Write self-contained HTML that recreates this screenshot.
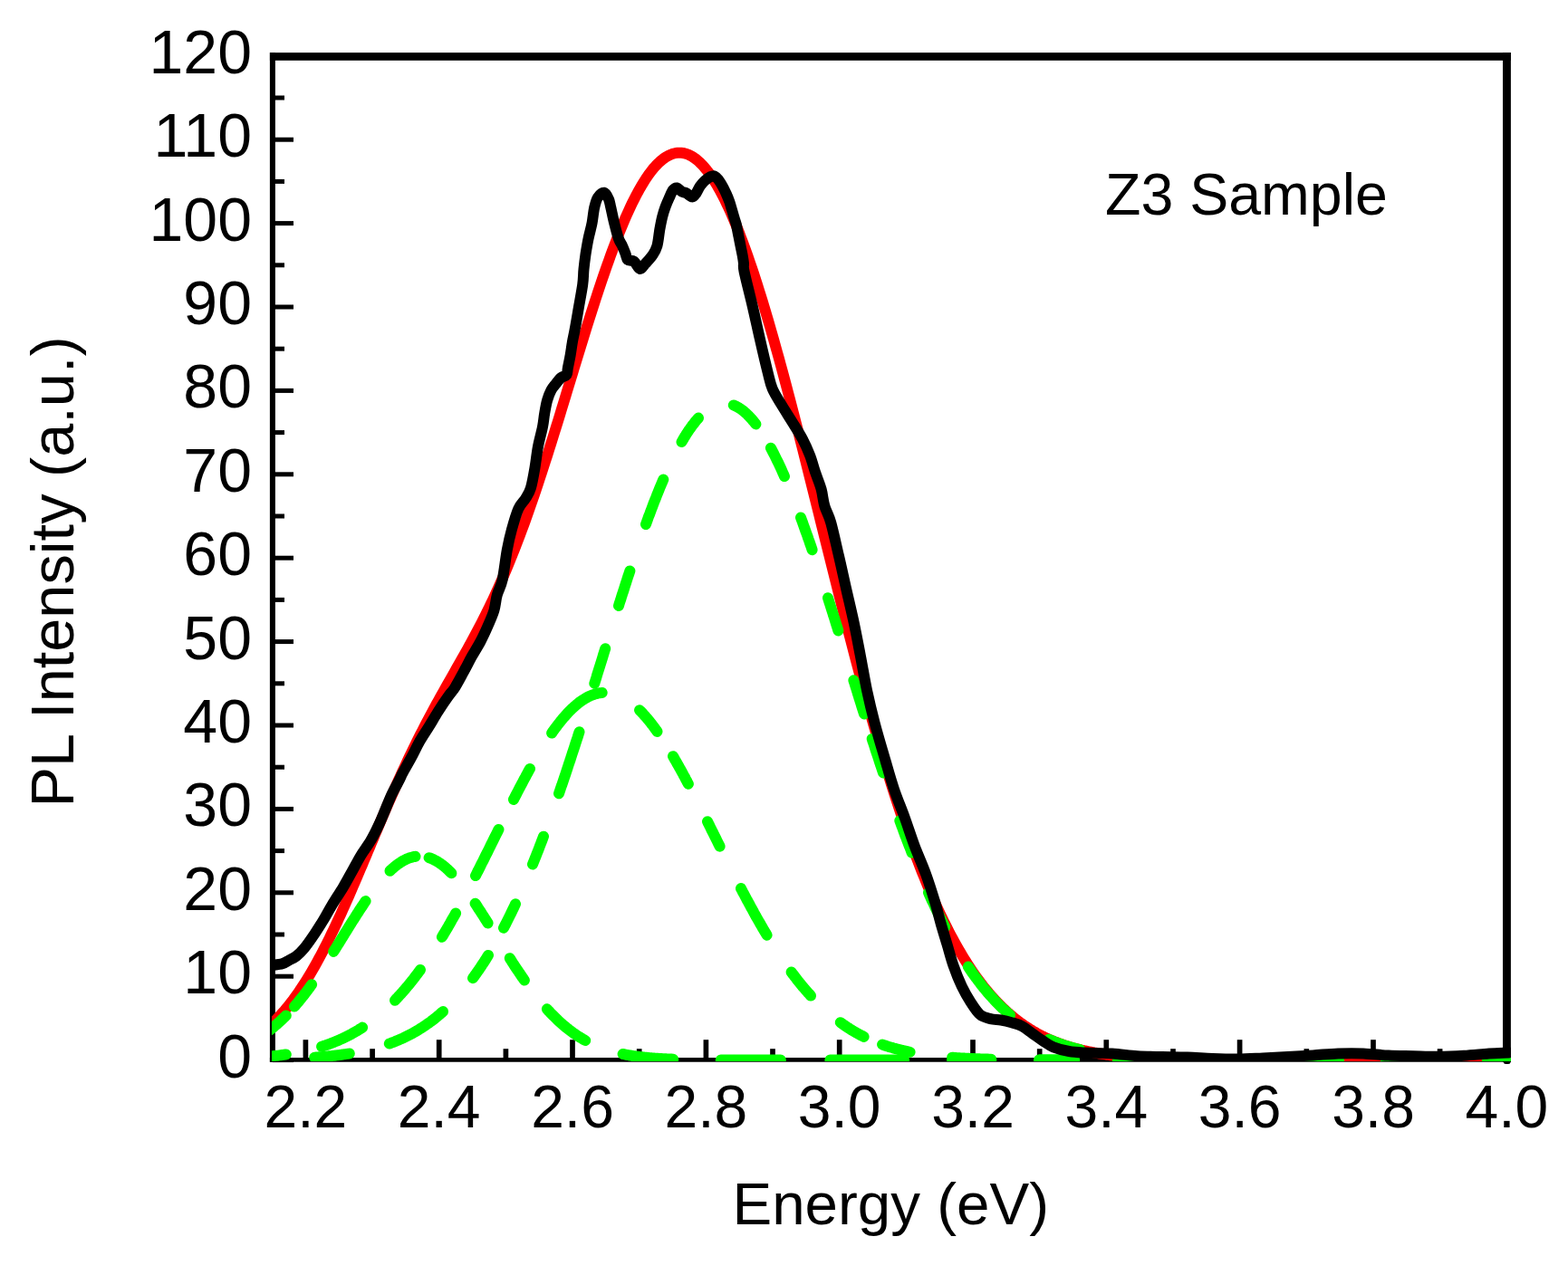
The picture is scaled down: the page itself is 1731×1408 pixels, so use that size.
<!DOCTYPE html>
<html><head><meta charset="utf-8"><style>
html,body{margin:0;padding:0;background:#fff;}
svg{display:block;}
text{font-family:"Liberation Sans",Arial,sans-serif;fill:#000;}
</style></head><body>
<svg width="1731" height="1408" viewBox="0 0 1731 1408">
<defs><clipPath id="pc"><rect x="300" y="58" width="1368" height="1114"/></clipPath></defs>
<rect width="1731" height="1408" fill="#fff"/>
<g stroke="#000" stroke-width="5"><line x1="301" y1="1170.6" x2="324" y2="1170.6"/>
<line x1="301" y1="1078.2" x2="324" y2="1078.2"/>
<line x1="301" y1="985.8" x2="324" y2="985.8"/>
<line x1="301" y1="893.4" x2="324" y2="893.4"/>
<line x1="301" y1="801.0" x2="324" y2="801.0"/>
<line x1="301" y1="708.6" x2="324" y2="708.6"/>
<line x1="301" y1="616.2" x2="324" y2="616.2"/>
<line x1="301" y1="523.8" x2="324" y2="523.8"/>
<line x1="301" y1="431.4" x2="324" y2="431.4"/>
<line x1="301" y1="339.0" x2="324" y2="339.0"/>
<line x1="301" y1="246.6" x2="324" y2="246.6"/>
<line x1="301" y1="154.2" x2="324" y2="154.2"/>
<line x1="301" y1="61.8" x2="324" y2="61.8"/>
<line x1="301" y1="1124.4" x2="314" y2="1124.4"/>
<line x1="301" y1="1032.0" x2="314" y2="1032.0"/>
<line x1="301" y1="939.6" x2="314" y2="939.6"/>
<line x1="301" y1="847.2" x2="314" y2="847.2"/>
<line x1="301" y1="754.8" x2="314" y2="754.8"/>
<line x1="301" y1="662.4" x2="314" y2="662.4"/>
<line x1="301" y1="570.0" x2="314" y2="570.0"/>
<line x1="301" y1="477.6" x2="314" y2="477.6"/>
<line x1="301" y1="385.2" x2="314" y2="385.2"/>
<line x1="301" y1="292.8" x2="314" y2="292.8"/>
<line x1="301" y1="200.4" x2="314" y2="200.4"/>
<line x1="301" y1="108.0" x2="314" y2="108.0"/>
<line x1="337.4" y1="1170.5" x2="337.4" y2="1148.2" stroke-width="5.7"/>
<line x1="484.7" y1="1170.5" x2="484.7" y2="1148.2" stroke-width="5.7"/>
<line x1="632.0" y1="1170.5" x2="632.0" y2="1148.2" stroke-width="5.7"/>
<line x1="779.4" y1="1170.5" x2="779.4" y2="1148.2" stroke-width="5.7"/>
<line x1="926.7" y1="1170.5" x2="926.7" y2="1148.2" stroke-width="5.7"/>
<line x1="1074.0" y1="1170.5" x2="1074.0" y2="1148.2" stroke-width="5.7"/>
<line x1="1221.3" y1="1170.5" x2="1221.3" y2="1148.2" stroke-width="5.7"/>
<line x1="1368.6" y1="1170.5" x2="1368.6" y2="1148.2" stroke-width="5.7"/>
<line x1="1516.0" y1="1170.5" x2="1516.0" y2="1148.2" stroke-width="5.7"/>
<line x1="1663.3" y1="1170.5" x2="1663.3" y2="1148.2" stroke-width="5.7"/>
<line x1="411.1" y1="1170.5" x2="411.1" y2="1158.2" stroke-width="5.7"/>
<line x1="558.4" y1="1170.5" x2="558.4" y2="1158.2" stroke-width="5.7"/>
<line x1="705.7" y1="1170.5" x2="705.7" y2="1158.2" stroke-width="5.7"/>
<line x1="853.0" y1="1170.5" x2="853.0" y2="1158.2" stroke-width="5.7"/>
<line x1="1000.3" y1="1170.5" x2="1000.3" y2="1158.2" stroke-width="5.7"/>
<line x1="1147.7" y1="1170.5" x2="1147.7" y2="1158.2" stroke-width="5.7"/>
<line x1="1295.0" y1="1170.5" x2="1295.0" y2="1158.2" stroke-width="5.7"/>
<line x1="1442.3" y1="1170.5" x2="1442.3" y2="1158.2" stroke-width="5.7"/>
<line x1="1589.6" y1="1170.5" x2="1589.6" y2="1158.2" stroke-width="5.7"/></g>
<g fill="#000"><rect x="297.9" y="58.1" width="6" height="1114.7"/><rect x="297.9" y="58.1" width="1370" height="8.7"/><rect x="1659" y="58.1" width="8.9" height="1114.7"/><rect x="1659.8" y="1170" width="7.7" height="5" rx="2.5"/><rect x="297.9" y="1168" width="1370" height="4.75"/></g>
<g clip-path="url(#pc)" fill="none" stroke-linejoin="round" stroke-linecap="round">
<path d="M298.0,1132.5 L300.0,1130.7 L302.0,1128.8 L304.0,1126.9 L306.0,1124.8 L308.0,1122.8 L310.0,1120.6 L312.0,1118.4 L314.0,1116.1 L316.0,1113.7 L318.0,1111.3 L320.0,1108.8 L322.0,1106.2 L324.0,1103.6 L326.0,1100.8 L328.0,1098.0 L330.0,1095.2 L332.0,1092.2 L334.0,1089.2 L336.0,1086.1 L338.0,1082.9 L340.0,1079.7 L342.0,1076.4 L344.0,1073.0 L346.0,1069.5 L348.0,1066.0 L350.0,1062.4 L352.0,1058.7 L354.0,1055.0 L356.0,1051.2 L358.0,1047.3 L360.0,1043.4 L362.0,1039.4 L364.0,1035.4 L366.0,1031.2 L368.0,1027.1 L370.0,1022.9 L372.0,1018.6 L374.0,1014.3 L376.0,1009.9 L378.0,1005.5 L380.0,1001.0 L382.0,996.6 L384.0,992.0 L386.0,987.5 L388.0,982.9 L390.0,978.2 L392.0,973.6 L394.0,968.9 L396.0,964.2 L398.0,959.5 L400.0,954.8 L402.0,950.0 L404.0,945.3 L406.0,940.5 L408.0,935.8 L410.0,931.0 L412.0,926.3 L414.0,921.5 L416.0,916.8 L418.0,912.1 L420.0,907.4 L422.0,902.7 L424.0,898.0 L426.0,893.4 L428.0,888.7 L430.0,884.1 L432.0,879.5 L434.0,875.0 L436.0,870.5 L438.0,866.0 L440.0,861.6 L442.0,857.2 L444.0,852.8 L446.0,848.5 L448.0,844.2 L450.0,839.9 L452.0,835.7 L454.0,831.5 L456.0,827.4 L458.0,823.3 L460.0,819.3 L462.0,815.3 L464.0,811.3 L466.0,807.4 L468.0,803.5 L470.0,799.6 L472.0,795.8 L474.0,792.0 L476.0,788.3 L478.0,784.6 L480.0,780.9 L482.0,777.2 L484.0,773.6 L486.0,770.0 L488.0,766.4 L490.0,762.8 L492.0,759.3 L494.0,755.7 L496.0,752.2 L498.0,748.7 L500.0,745.2 L502.0,741.6 L504.0,738.1 L506.0,734.6 L508.0,731.1 L510.0,727.5 L512.0,724.0 L514.0,720.4 L516.0,716.8 L518.0,713.2 L520.0,709.5 L522.0,705.8 L524.0,702.1 L526.0,698.4 L528.0,694.6 L530.0,690.8 L532.0,686.9 L534.0,682.9 L536.0,679.0 L538.0,674.9 L540.0,670.8 L542.0,666.7 L544.0,662.5 L546.0,658.2 L548.0,653.9 L550.0,649.5 L552.0,645.0 L554.0,640.4 L556.0,635.8 L558.0,631.1 L560.0,626.4 L562.0,621.5 L564.0,616.6 L566.0,611.6 L568.0,606.5 L570.0,601.4 L572.0,596.2 L574.0,590.9 L576.0,585.5 L578.0,580.1 L580.0,574.6 L582.0,569.0 L584.0,563.3 L586.0,557.6 L588.0,551.8 L590.0,546.0 L592.0,540.0 L594.0,534.1 L596.0,528.0 L598.0,521.9 L600.0,515.7 L602.0,509.5 L604.0,503.3 L606.0,497.0 L608.0,490.6 L610.0,484.2 L612.0,477.8 L614.0,471.4 L616.0,464.9 L618.0,458.4 L620.0,451.8 L622.0,445.3 L624.0,438.7 L626.0,432.1 L628.0,425.5 L630.0,419.0 L632.0,412.4 L634.0,405.8 L636.0,399.2 L638.0,392.7 L640.0,386.2 L642.0,379.7 L644.0,373.2 L646.0,366.7 L648.0,360.3 L650.0,354.0 L652.0,347.6 L654.0,341.4 L656.0,335.1 L658.0,329.0 L660.0,322.9 L662.0,316.9 L664.0,310.9 L666.0,305.0 L668.0,299.2 L670.0,293.5 L672.0,287.9 L674.0,282.3 L676.0,276.9 L678.0,271.5 L680.0,266.3 L682.0,261.1 L684.0,256.1 L686.0,251.2 L688.0,246.4 L690.0,241.7 L692.0,237.1 L694.0,232.7 L696.0,228.4 L698.0,224.2 L700.0,220.2 L702.0,216.3 L704.0,212.5 L706.0,208.9 L708.0,205.4 L710.0,202.1 L712.0,198.9 L714.0,195.8 L716.0,192.9 L718.0,190.2 L720.0,187.6 L722.0,185.2 L724.0,183.0 L726.0,180.9 L728.0,179.0 L730.0,177.2 L732.0,175.6 L734.0,174.1 L736.0,172.9 L738.0,171.8 L740.0,170.8 L742.0,170.1 L744.0,169.5 L746.0,169.0 L748.0,168.8 L750.0,168.7 L752.0,168.8 L754.0,169.0 L756.0,169.4 L758.0,170.0 L760.0,170.8 L762.0,171.7 L764.0,172.8 L766.0,174.1 L768.0,175.5 L770.0,177.1 L772.0,178.9 L774.0,180.8 L776.0,182.9 L778.0,185.2 L780.0,187.6 L782.0,190.2 L784.0,192.9 L786.0,195.8 L788.0,198.9 L790.0,202.1 L792.0,205.4 L794.0,208.9 L796.0,212.6 L798.0,216.4 L800.0,220.4 L802.0,224.5 L804.0,228.7 L806.0,233.1 L808.0,237.7 L810.0,242.3 L812.0,247.1 L814.0,252.1 L816.0,257.1 L818.0,262.3 L820.0,267.6 L822.0,273.1 L824.0,278.6 L826.0,284.3 L828.0,290.1 L830.0,296.0 L832.0,302.0 L834.0,308.1 L836.0,314.4 L838.0,320.7 L840.0,327.1 L842.0,333.6 L844.0,340.3 L846.0,347.0 L848.0,353.8 L850.0,360.6 L852.0,367.6 L854.0,374.7 L856.0,381.8 L858.0,389.0 L860.0,396.2 L862.0,403.5 L864.0,410.9 L866.0,418.4 L868.0,425.9 L870.0,433.5 L872.0,441.1 L874.0,448.8 L876.0,456.5 L878.0,464.2 L880.0,472.0 L882.0,479.8 L884.0,487.7 L886.0,495.6 L888.0,503.5 L890.0,511.5 L892.0,519.5 L894.0,527.5 L896.0,535.5 L898.0,543.5 L900.0,551.5 L902.0,559.6 L904.0,567.6 L906.0,575.7 L908.0,583.7 L910.0,591.8 L912.0,599.8 L914.0,607.8 L916.0,615.8 L918.0,623.9 L920.0,631.8 L922.0,639.8 L924.0,647.8 L926.0,655.7 L928.0,663.6 L930.0,671.5 L932.0,679.3 L934.0,687.1 L936.0,694.9 L938.0,702.6 L940.0,710.3 L942.0,718.0 L944.0,725.6 L946.0,733.2 L948.0,740.7 L950.0,748.2 L952.0,755.6 L954.0,762.9 L956.0,770.3 L958.0,777.5 L960.0,784.7 L962.0,791.8 L964.0,798.9 L966.0,805.9 L968.0,812.9 L970.0,819.8 L972.0,826.6 L974.0,833.4 L976.0,840.0 L978.0,846.7 L980.0,853.2 L982.0,859.7 L984.0,866.1 L986.0,872.4 L988.0,878.7 L990.0,884.8 L992.0,890.9 L994.0,897.0 L996.0,902.9 L998.0,908.8 L1000.0,914.6 L1002.0,920.3 L1004.0,925.9 L1006.0,931.5 L1008.0,937.0 L1010.0,942.4 L1012.0,947.7 L1014.0,952.9 L1016.0,958.1 L1018.0,963.2 L1020.0,968.1 L1022.0,973.1 L1024.0,977.9 L1026.0,982.6 L1028.0,987.3 L1030.0,991.9 L1032.0,996.4 L1034.0,1000.9 L1036.0,1005.2 L1038.0,1009.5 L1040.0,1013.7 L1042.0,1017.8 L1044.0,1021.8 L1046.0,1025.8 L1048.0,1029.7 L1050.0,1033.5 L1052.0,1037.2 L1054.0,1040.9 L1056.0,1044.5 L1058.0,1048.0 L1060.0,1051.4 L1062.0,1054.8 L1064.0,1058.1 L1066.0,1061.3 L1068.0,1064.4 L1070.0,1067.5 L1072.0,1070.5 L1074.0,1073.5 L1076.0,1076.4 L1078.0,1079.2 L1080.0,1081.9 L1082.0,1084.6 L1084.0,1087.2 L1086.0,1089.8 L1088.0,1092.3 L1090.0,1094.7 L1092.0,1097.1 L1094.0,1099.4 L1096.0,1101.6 L1098.0,1103.8 L1100.0,1106.0 L1102.0,1108.0 L1104.0,1110.1 L1106.0,1112.1 L1108.0,1114.0 L1110.0,1115.8 L1112.0,1117.7 L1114.0,1119.4 L1116.0,1121.2 L1118.0,1122.8 L1120.0,1124.5 L1122.0,1126.0 L1124.0,1127.6 L1126.0,1129.1 L1128.0,1130.5 L1130.0,1131.9 L1132.0,1133.3 L1134.0,1134.6 L1136.0,1135.9 L1138.0,1137.1 L1140.0,1138.4 L1142.0,1139.5 L1144.0,1140.7 L1146.0,1141.8 L1148.0,1142.8 L1150.0,1143.9 L1152.0,1144.8 L1154.0,1145.8 L1156.0,1146.8 L1158.0,1147.7 L1160.0,1148.5 L1162.0,1149.4 L1164.0,1150.2 L1166.0,1151.0 L1168.0,1151.7 L1170.0,1152.5 L1172.0,1153.2 L1174.0,1153.9 L1176.0,1154.6 L1178.0,1155.2 L1180.0,1155.8 L1182.0,1156.4 L1184.0,1157.0 L1186.0,1157.5 L1188.0,1158.1 L1190.0,1158.6 L1192.0,1159.1 L1194.0,1159.6 L1196.0,1160.0 L1198.0,1160.5 L1200.0,1160.9 L1202.0,1161.3 L1204.0,1161.7 L1206.0,1162.1 L1208.0,1162.5 L1210.0,1162.8 L1212.0,1163.1 L1214.0,1163.5 L1216.0,1163.8 L1218.0,1164.1 L1220.0,1164.4 L1222.0,1164.7 L1224.0,1164.9 L1226.0,1165.2 L1228.0,1165.4 L1230.0,1165.7 L1232.0,1165.9 L1234.0,1166.1 L1236.0,1166.3 L1238.0,1166.5 L1240.0,1166.7 L1242.0,1166.9 L1244.0,1167.0 L1246.0,1167.2 L1248.0,1167.4 L1250.0,1167.5 L1252.0,1167.7 L1254.0,1167.8 L1256.0,1167.9 L1258.0,1168.1 L1260.0,1168.2 L1262.0,1168.3 L1264.0,1168.4 L1266.0,1168.5 L1268.0,1168.6 L1270.0,1168.7 L1272.0,1168.8 L1274.0,1168.9 L1276.0,1169.0 L1278.0,1169.1 L1280.0,1169.2 L1282.0,1169.2 L1284.0,1169.3 L1286.0,1169.4 L1288.0,1169.4 L1290.0,1169.5 L1292.0,1169.5 L1294.0,1169.6 L1296.0,1169.6 L1298.0,1169.7 L1300.0,1169.7 L1302.0,1169.8 L1304.0,1169.8 L1306.0,1169.9 L1308.0,1169.9 L1310.0,1169.9 L1312.0,1170.0 L1314.0,1170.0 L1316.0,1170.0 L1318.0,1170.1 L1320.0,1170.1 L1322.0,1170.1 L1324.0,1170.2 L1326.0,1170.2 L1328.0,1170.2 L1330.0,1170.2 L1332.0,1170.2 L1334.0,1170.3 L1336.0,1170.3 L1338.0,1170.3 L1340.0,1170.3 L1342.0,1170.3 L1344.0,1170.4 L1346.0,1170.4 L1348.0,1170.4 L1350.0,1170.4 L1352.0,1170.4 L1354.0,1170.4 L1356.0,1170.4 L1358.0,1170.4 L1360.0,1170.4 L1362.0,1170.5 L1364.0,1170.5 L1366.0,1170.5 L1368.0,1170.5 L1370.0,1170.5 L1372.0,1170.5 L1374.0,1170.5 L1376.0,1170.5 L1378.0,1170.5 L1380.0,1170.5 L1382.0,1170.5 L1384.0,1170.5 L1386.0,1170.5 L1388.0,1170.5 L1390.0,1170.5 L1392.0,1170.5 L1394.0,1170.5 L1396.0,1170.6 L1398.0,1170.6 L1400.0,1170.6 L1402.0,1170.6 L1404.0,1170.6 L1406.0,1170.6 L1408.0,1170.6 L1410.0,1170.6 L1412.0,1170.6 L1414.0,1170.6 L1416.0,1170.6 L1418.0,1170.6 L1420.0,1170.6 L1422.0,1170.6 L1424.0,1170.6 L1426.0,1170.6 L1428.0,1170.6 L1430.0,1170.6 L1432.0,1170.6 L1434.0,1170.6 L1436.0,1170.6 L1438.0,1170.6 L1440.0,1170.6 L1442.0,1170.6 L1444.0,1170.6 L1446.0,1170.6 L1448.0,1170.6 L1450.0,1170.6 L1452.0,1170.6 L1454.0,1170.6 L1456.0,1170.6 L1458.0,1170.6 L1460.0,1170.6 L1462.0,1170.6 L1464.0,1170.6 L1466.0,1170.6 L1468.0,1170.6 L1470.0,1170.6 L1472.0,1170.6 L1474.0,1170.6 L1476.0,1170.6 L1478.0,1170.6 L1480.0,1170.6 L1482.0,1170.6 L1484.0,1170.6 L1486.0,1170.6 L1488.0,1170.6 L1490.0,1170.6 L1492.0,1170.6 L1494.0,1170.6 L1496.0,1170.6 L1498.0,1170.6 L1500.0,1170.6 L1502.0,1170.6 L1504.0,1170.6 L1506.0,1170.6 L1508.0,1170.6 L1510.0,1170.6 L1512.0,1170.6 L1514.0,1170.6 L1516.0,1170.6 L1518.0,1170.6 L1520.0,1170.6 L1522.0,1170.6 L1524.0,1170.6 L1526.0,1170.6 L1528.0,1170.6 L1530.0,1170.6 L1532.0,1170.6 L1534.0,1170.6 L1536.0,1170.6 L1538.0,1170.6 L1540.0,1170.6 L1542.0,1170.6 L1544.0,1170.6 L1546.0,1170.6 L1548.0,1170.6 L1550.0,1170.6 L1552.0,1170.6 L1554.0,1170.6 L1556.0,1170.6 L1558.0,1170.6 L1560.0,1170.6 L1562.0,1170.6 L1564.0,1170.6 L1566.0,1170.6 L1568.0,1170.6 L1570.0,1170.6 L1572.0,1170.6 L1574.0,1170.6 L1576.0,1170.6 L1578.0,1170.6 L1580.0,1170.6 L1582.0,1170.6 L1584.0,1170.6 L1586.0,1170.6 L1588.0,1170.6 L1590.0,1170.6 L1592.0,1170.6 L1594.0,1170.6 L1596.0,1170.6 L1598.0,1170.6 L1600.0,1170.6 L1602.0,1170.6 L1604.0,1170.6 L1606.0,1170.6 L1608.0,1170.6 L1610.0,1170.6 L1612.0,1170.6 L1614.0,1170.6 L1616.0,1170.6 L1618.0,1170.6 L1620.0,1170.6 L1622.0,1170.6 L1624.0,1170.6 L1626.0,1170.6 L1628.0,1170.6 L1630.0,1170.6 L1632.0,1170.6 L1634.0,1170.6 L1636.0,1170.6 L1638.0,1170.6 L1640.0,1170.6 L1642.0,1170.6 L1644.0,1170.6 L1646.0,1170.6 L1648.0,1170.6 L1650.0,1170.6 L1652.0,1170.6 L1654.0,1170.6 L1656.0,1170.6 L1658.0,1170.6 L1660.0,1170.6 L1662.0,1170.6 L1664.0,1170.6 L1666.0,1170.6 L1668.0,1170.6 L1670.0,1170.6" stroke="#ff0000" stroke-width="12"/>
<path d="M290.0,1143.1 L291.0,1142.4 L292.1,1141.7 L293.1,1140.9 L294.1,1140.2 L295.2,1139.4 L296.2,1138.7 L297.2,1137.9 L298.3,1137.1 L299.3,1136.3 L300.3,1135.5 L301.4,1134.7 L302.4,1133.8 L303.4,1132.9 L304.4,1132.1 L305.5,1131.2 L306.5,1130.3 L307.5,1129.3 L308.6,1128.4 L309.6,1127.5 L310.6,1126.5 L311.7,1125.5 L312.7,1124.5 L313.7,1123.5 L314.8,1122.5 L315.8,1121.4 M325.0,1111.5 L326.0,1110.4 L327.0,1109.2 L328.0,1108.0 L329.0,1106.8 L330.0,1105.6 L331.0,1104.4 L332.0,1103.1 L333.0,1101.9 L334.0,1100.6 L335.1,1099.3 L336.1,1098.0 L337.1,1096.7 L338.1,1095.4 L339.1,1094.1 L340.1,1092.7 L341.1,1091.4 L342.1,1090.0 L343.1,1088.6 L344.1,1087.2 M368.2,1050.9 L369.2,1049.3 L370.2,1047.7 L371.2,1046.1 L372.2,1044.5 L373.3,1042.8 L374.3,1041.2 L375.3,1039.6 L376.3,1038.0 L377.3,1036.3 L378.3,1034.7 L379.3,1033.1 L380.3,1031.4 L381.3,1029.8 L382.4,1028.2 L383.4,1026.5 L384.4,1024.9 L385.4,1023.3 L386.4,1021.6 L387.4,1020.0 L388.4,1018.4 L389.4,1016.8 L390.5,1015.2 L391.5,1013.6 L392.5,1012.0 L393.5,1010.4 L394.5,1008.8 L395.5,1007.3 L396.5,1005.7 L397.5,1004.2 L398.5,1002.6 L399.6,1001.1 L400.6,999.6 L401.6,998.0 L402.6,996.5 L403.6,995.1 M430.5,961.7 L431.5,960.8 L432.5,959.9 L433.5,959.0 L434.5,958.1 L435.5,957.3 L436.5,956.4 L437.5,955.7 L438.5,954.9 L439.5,954.2 L440.5,953.5 L441.5,952.8 L442.5,952.1 L443.5,951.5 L444.5,950.9 L445.5,950.4 L446.5,949.8 L447.5,949.3 L448.5,948.9 L449.5,948.4 L450.5,948.0 L451.5,947.6 L452.5,947.3 L453.5,947.0 L454.5,946.7 L455.5,946.4 L456.5,946.2 L457.5,946.0 L458.5,945.8 M473.6,947.2 L474.6,947.5 L475.7,947.9 L476.7,948.3 L477.7,948.8 L478.8,949.3 L479.8,949.8 L480.8,950.3 L481.9,950.9 L482.9,951.5 L483.9,952.2 L485.0,952.8 L486.0,953.5 L487.0,954.3 L488.1,955.0 L489.1,955.8 L490.1,956.6 L491.2,957.5 L492.2,958.4 L493.2,959.3 L494.3,960.2 L495.3,961.2 L496.3,962.2 L497.4,963.2 L498.4,964.2 M524.6,997.7 L525.6,999.2 L526.6,1000.7 L527.6,1002.3 L528.6,1003.8 L529.6,1005.3 L530.6,1006.9 L531.6,1008.4 L532.6,1010.0 L533.6,1011.5 L534.6,1013.1 L535.6,1014.7 L536.6,1016.3 L537.6,1017.9 L538.6,1019.4 M562.8,1058.2 L563.8,1059.8 L564.8,1061.4 L565.8,1063.0 L566.8,1064.5 L567.8,1066.1 L568.8,1067.6 L569.8,1069.1 L570.8,1070.6 L571.9,1072.2 L572.9,1073.7 L573.9,1075.1 L574.9,1076.6 L575.9,1078.1 L576.9,1079.6 L577.9,1081.0 L578.9,1082.5 M603.9,1114.3 L604.9,1115.5 L605.9,1116.6 L606.9,1117.6 L607.9,1118.7 L608.9,1119.8 L609.9,1120.8 L611.0,1121.8 L612.0,1122.8 L613.0,1123.8 L614.0,1124.8 L615.0,1125.8 L616.0,1126.7 L617.0,1127.7 L618.0,1128.6 L619.0,1129.5 L620.0,1130.4 L621.0,1131.3 L622.0,1132.1 L623.0,1133.0 L624.0,1133.8 L625.0,1134.7 L626.1,1135.5 L627.1,1136.3 L628.1,1137.1 L629.1,1137.8 L630.1,1138.6 L631.1,1139.3 L632.1,1140.1 L633.1,1140.8 L634.1,1141.5 L635.1,1142.2 L636.1,1142.9 L637.1,1143.6 L638.1,1144.2 L639.2,1144.9 L640.2,1145.5 L641.2,1146.1 L642.2,1146.7 L643.2,1147.3 L644.2,1147.9 L645.2,1148.5 L646.2,1149.0 M687.6,1164.0 L688.6,1164.2 L689.6,1164.4 L690.6,1164.6 L691.6,1164.8 L692.7,1165.0 L693.7,1165.1 L694.7,1165.3 L695.7,1165.5 L696.7,1165.7 L697.7,1165.8 L698.7,1166.0 L699.7,1166.1 L700.7,1166.3 L701.8,1166.4 L702.8,1166.6 L703.8,1166.7 L704.8,1166.8 L705.8,1167.0 L706.8,1167.1 L707.8,1167.2 L708.8,1167.3 L709.8,1167.4 L710.9,1167.5 L711.9,1167.6 L712.9,1167.7 L713.9,1167.8 L714.9,1167.9 L715.9,1168.0 L716.9,1168.1 L717.9,1168.2 L718.9,1168.3 L719.9,1168.4 L721.0,1168.5 L722.0,1168.5 L723.0,1168.6 L724.0,1168.7 L725.0,1168.7 L726.0,1168.8 L727.0,1168.9 L728.0,1168.9 L729.0,1169.0 L730.1,1169.1 L731.1,1169.1 L732.1,1169.2 L733.1,1169.2 L734.1,1169.3 L735.1,1169.3 L736.1,1169.4 L737.1,1169.4 L738.1,1169.5 L739.2,1169.5 L740.2,1169.6 L741.2,1169.6 L742.2,1169.6 L743.2,1169.7 M795.8,1170.5 L796.8,1170.5 L797.8,1170.5 L798.8,1170.5 L799.8,1170.5 L800.8,1170.5 L801.8,1170.5 L802.8,1170.5 L803.8,1170.5 L804.8,1170.5 L805.8,1170.5 L806.8,1170.5 L807.8,1170.5 L808.8,1170.5 L809.8,1170.6 L810.8,1170.6 L811.8,1170.6 L812.8,1170.6 L813.8,1170.6 L814.8,1170.6 L815.8,1170.6 L816.8,1170.6 L817.8,1170.6 L818.8,1170.6 L819.8,1170.6 L820.8,1170.6 L821.8,1170.6 L822.8,1170.6 L823.8,1170.6 L824.8,1170.6 L825.8,1170.6 L826.8,1170.6 L827.8,1170.6 L828.8,1170.6 L829.8,1170.6 L830.8,1170.6 L831.8,1170.6 L832.8,1170.6 L833.8,1170.6 L834.8,1170.6 L835.8,1170.6 L836.8,1170.6 L837.8,1170.6 L838.8,1170.6 L839.8,1170.6 L840.8,1170.6 L841.8,1170.6 L842.8,1170.6 L843.8,1170.6 L844.8,1170.6 L845.8,1170.6 L846.8,1170.6 L847.8,1170.6 L848.8,1170.6 L849.8,1170.6 L850.8,1170.6 L851.8,1170.6 L852.8,1170.6 L853.8,1170.6 L854.8,1170.6 L855.8,1170.6 L856.8,1170.6 L857.8,1170.6 L858.8,1170.6 L859.8,1170.6 L860.8,1170.6 L861.8,1170.6 M916.4,1170.6 L917.4,1170.6 L918.4,1170.6 L919.4,1170.6 L920.4,1170.6 L921.4,1170.6 L922.5,1170.6 L923.5,1170.6 L924.5,1170.6 L925.5,1170.6 L926.5,1170.6 L927.5,1170.6 L928.5,1170.6 L929.5,1170.6 L930.5,1170.6 L931.5,1170.6 L932.5,1170.6 L933.5,1170.6 L934.6,1170.6 L935.6,1170.6 L936.6,1170.6 L937.6,1170.6 L938.6,1170.6 L939.6,1170.6 L940.6,1170.6 L941.6,1170.6 L942.6,1170.6 L943.6,1170.6 L944.6,1170.6 L945.7,1170.6 L946.7,1170.6 L947.7,1170.6 L948.7,1170.6 L949.7,1170.6 L950.7,1170.6 L951.7,1170.6 L952.7,1170.6 L953.7,1170.6 L954.7,1170.6 L955.7,1170.6 L956.7,1170.6 L957.8,1170.6 L958.8,1170.6 L959.8,1170.6 L960.8,1170.6 L961.8,1170.6 L962.8,1170.6 L963.8,1170.6 L964.8,1170.6 L965.8,1170.6 L966.8,1170.6 L967.8,1170.6 L968.8,1170.6 L969.9,1170.6 L970.9,1170.6 L971.9,1170.6 L972.9,1170.6 L973.9,1170.6 L974.9,1170.6 L975.9,1170.6 L976.9,1170.6 L977.9,1170.6 L978.9,1170.6 L979.9,1170.6 L981.0,1170.6 L982.0,1170.6 L983.0,1170.6 L984.0,1170.6 L985.0,1170.6 L986.0,1170.6 L987.0,1170.6 L988.0,1170.6 L989.0,1170.6 L990.0,1170.6 L991.0,1170.6 L992.0,1170.6 L993.1,1170.6 L994.1,1170.6 L995.1,1170.6 L996.1,1170.6 L997.1,1170.6 L998.1,1170.6 M1051.1,1170.6 L1052.1,1170.6 L1053.1,1170.6 L1054.1,1170.6 L1055.1,1170.6 L1056.1,1170.6 L1057.1,1170.6 L1058.1,1170.6 L1059.1,1170.6 L1060.1,1170.6 L1061.1,1170.6 L1062.1,1170.6 L1063.1,1170.6 L1064.1,1170.6 L1065.1,1170.6 L1066.1,1170.6 L1067.1,1170.6 L1068.1,1170.6 L1069.1,1170.6 L1070.1,1170.6 L1071.1,1170.6 L1072.1,1170.6 L1073.2,1170.6 L1074.2,1170.6 L1075.2,1170.6 L1076.2,1170.6 L1077.2,1170.6 L1078.2,1170.6 L1079.2,1170.6 L1080.2,1170.6 L1081.2,1170.6 L1082.2,1170.6 L1083.2,1170.6 L1084.2,1170.6 L1085.2,1170.6 L1086.2,1170.6 L1087.2,1170.6 L1088.2,1170.6 L1089.2,1170.6 L1090.2,1170.6 L1091.2,1170.6 L1092.2,1170.6 L1093.2,1170.6 L1094.2,1170.6 M1147.2,1170.6 L1148.2,1170.6 L1149.2,1170.6 L1150.3,1170.6 L1151.3,1170.6 L1152.3,1170.6 L1153.3,1170.6 L1154.4,1170.6 L1155.4,1170.6 L1156.4,1170.6 L1157.4,1170.6 L1158.5,1170.6 L1159.5,1170.6 L1160.5,1170.6 L1161.5,1170.6 L1162.6,1170.6 L1163.6,1170.6 L1164.6,1170.6 L1165.6,1170.6 L1166.7,1170.6 L1167.7,1170.6 L1168.7,1170.6 L1169.7,1170.6 L1170.7,1170.6 L1171.8,1170.6 L1172.8,1170.6 L1173.8,1170.6 L1174.8,1170.6 L1175.9,1170.6 L1176.9,1170.6 L1177.9,1170.6 L1178.9,1170.6 L1180.0,1170.6 L1181.0,1170.6 L1182.0,1170.6 L1183.0,1170.6 L1184.1,1170.6 L1185.1,1170.6 L1186.1,1170.6 M1240.0,1170.6 L1241.0,1170.6 L1242.0,1170.6 L1243.0,1170.6 L1244.0,1170.6 L1245.0,1170.6 L1246.0,1170.6 L1247.0,1170.6 L1248.0,1170.6 L1249.0,1170.6 L1250.0,1170.6 L1251.0,1170.6 L1252.0,1170.6 L1253.0,1170.6 L1254.0,1170.6 L1255.0,1170.6 L1256.0,1170.6 L1257.0,1170.6 L1258.0,1170.6 L1259.0,1170.6 L1260.0,1170.6 L1261.0,1170.6 L1262.0,1170.6 L1263.0,1170.6 L1264.0,1170.6 L1265.0,1170.6 L1266.0,1170.6 L1267.0,1170.6 L1268.0,1170.6 L1269.0,1170.6 L1270.0,1170.6 L1271.0,1170.6 L1272.0,1170.6 L1273.0,1170.6 L1274.0,1170.6 L1275.0,1170.6 L1276.0,1170.6 L1277.0,1170.6 L1278.0,1170.6 L1279.0,1170.6 L1280.0,1170.6 L1281.0,1170.6 L1282.0,1170.6 L1283.0,1170.6 L1284.0,1170.6 L1285.0,1170.6 L1286.0,1170.6 L1287.0,1170.6 L1288.0,1170.6 L1289.0,1170.6 L1290.0,1170.6 M1345.0,1170.6 L1346.0,1170.6 L1347.0,1170.6 L1348.0,1170.6 L1349.0,1170.6 L1350.0,1170.6 L1351.0,1170.6 L1352.0,1170.6 L1353.0,1170.6 L1354.0,1170.6 L1355.0,1170.6 L1356.0,1170.6 L1357.0,1170.6 L1358.0,1170.6 L1359.0,1170.6 L1360.0,1170.6 L1361.0,1170.6 L1362.0,1170.6 L1363.0,1170.6 L1364.0,1170.6 L1365.0,1170.6 L1366.0,1170.6 L1367.0,1170.6 L1368.0,1170.6 L1369.0,1170.6 L1370.0,1170.6 L1371.0,1170.6 L1372.0,1170.6 L1373.0,1170.6 L1374.0,1170.6 L1375.0,1170.6 L1376.0,1170.6 L1377.0,1170.6 L1378.0,1170.6 L1379.0,1170.6 L1380.0,1170.6 L1381.0,1170.6 L1382.0,1170.6 L1383.0,1170.6 L1384.0,1170.6 L1385.0,1170.6 L1386.0,1170.6 L1387.0,1170.6 L1388.0,1170.6 L1389.0,1170.6 L1390.0,1170.6 L1391.0,1170.6 L1392.0,1170.6 L1393.0,1170.6 L1394.0,1170.6 L1395.0,1170.6 L1396.0,1170.6 L1397.0,1170.6 L1398.0,1170.6 L1399.0,1170.6 L1400.0,1170.6 M1440.0,1170.6 L1441.0,1170.6 L1442.0,1170.6 L1443.0,1170.6 L1444.0,1170.6 L1445.0,1170.6 L1446.0,1170.6 L1447.0,1170.6 L1448.0,1170.6 L1449.0,1170.6 L1450.0,1170.6 L1451.0,1170.6 L1452.0,1170.6 L1453.0,1170.6 L1454.0,1170.6 L1455.0,1170.6 L1456.0,1170.6 L1457.0,1170.6 L1458.0,1170.6 L1459.0,1170.6 L1460.0,1170.6 L1461.0,1170.6 L1462.0,1170.6 L1463.0,1170.6 L1464.0,1170.6 L1465.0,1170.6 L1466.0,1170.6 L1467.0,1170.6 L1468.0,1170.6 L1469.0,1170.6 L1470.0,1170.6 L1471.0,1170.6 L1472.0,1170.6 L1473.0,1170.6 L1474.0,1170.6 L1475.0,1170.6 L1476.0,1170.6 L1477.0,1170.6 L1478.0,1170.6 M1530.0,1170.6 L1531.0,1170.6 L1532.0,1170.6 L1533.0,1170.6 L1534.0,1170.6 L1535.0,1170.6 L1536.0,1170.6 L1537.0,1170.6 L1538.0,1170.6 L1539.0,1170.6 L1540.0,1170.6 L1541.0,1170.6 L1542.0,1170.6 L1543.0,1170.6 L1544.0,1170.6 L1545.0,1170.6 L1546.0,1170.6 L1547.0,1170.6 L1548.0,1170.6 L1549.0,1170.6 L1550.0,1170.6 L1551.0,1170.6 L1552.0,1170.6 L1553.0,1170.6 L1554.0,1170.6 L1555.0,1170.6 L1556.0,1170.6 L1557.0,1170.6 L1558.0,1170.6 L1559.0,1170.6 L1560.0,1170.6 L1561.0,1170.6 L1562.0,1170.6 L1563.0,1170.6 L1564.0,1170.6 L1565.0,1170.6 L1566.0,1170.6 L1567.0,1170.6 L1568.0,1170.6 L1569.0,1170.6 L1570.0,1170.6 L1571.0,1170.6 L1572.0,1170.6 L1573.0,1170.6 L1574.0,1170.6 L1575.0,1170.6 L1576.0,1170.6 L1577.0,1170.6 L1578.0,1170.6 L1579.0,1170.6 L1580.0,1170.6 L1581.0,1170.6 L1582.0,1170.6 L1583.0,1170.6 L1584.0,1170.6 L1585.0,1170.6 L1586.0,1170.6 L1587.0,1170.6 L1588.0,1170.6 L1589.0,1170.6 L1590.0,1170.6 M1642.0,1170.6 L1643.0,1170.6 L1644.0,1170.6 L1645.0,1170.6 L1646.0,1170.6 L1647.0,1170.6 L1648.0,1170.6 L1649.0,1170.6 L1650.0,1170.6 L1651.0,1170.6 L1652.0,1170.6 L1653.0,1170.6 L1654.0,1170.6 L1655.0,1170.6 L1656.0,1170.6 L1657.0,1170.6 L1658.0,1170.6 L1659.0,1170.6 L1660.0,1170.6 L1661.0,1170.6 L1662.0,1170.6 L1663.0,1170.6 L1664.0,1170.6 L1665.0,1170.6 L1666.0,1170.6 L1667.0,1170.6 L1668.0,1170.6 L1669.0,1170.6 L1670.0,1170.6 L1671.0,1170.6 L1672.0,1170.6 L1673.0,1170.6 L1674.0,1170.6 L1675.0,1170.6 L1676.0,1170.6 L1677.0,1170.6 L1678.0,1170.6 L1679.0,1170.6 L1680.0,1170.6" stroke="#00ff00" stroke-width="12"/>
<path d="M290.0,1167.3 L291.0,1167.3 L292.1,1167.2 L293.1,1167.1 L294.1,1167.0 L295.2,1166.9 L296.2,1166.8 L297.2,1166.7 L298.3,1166.6 L299.3,1166.5 L300.3,1166.4 L301.4,1166.3 L302.4,1166.2 L303.4,1166.0 L304.4,1165.9 L305.5,1165.8 L306.5,1165.7 L307.5,1165.6 L308.6,1165.4 L309.6,1165.3 L310.6,1165.2 L311.7,1165.0 L312.7,1164.9 L313.7,1164.7 L314.8,1164.6 L315.8,1164.4 M355.1,1155.7 L356.1,1155.4 L357.1,1155.1 L358.1,1154.8 L359.1,1154.4 L360.1,1154.1 L361.1,1153.7 L362.1,1153.4 L363.1,1153.0 L364.1,1152.7 L365.1,1152.3 L366.1,1151.9 L367.1,1151.5 L368.1,1151.1 L369.1,1150.7 L370.1,1150.3 L371.1,1149.9 L372.1,1149.5 L373.1,1149.1 L374.1,1148.6 L375.1,1148.2 L376.1,1147.7 L377.1,1147.3 L378.1,1146.8 L379.1,1146.4 L380.1,1145.9 L381.1,1145.4 L382.1,1144.9 L383.1,1144.4 L384.1,1143.9 L385.1,1143.4 L386.1,1142.9 L387.1,1142.3 L388.1,1141.8 L389.1,1141.2 L390.1,1140.7 L391.1,1140.1 L392.1,1139.5 L393.1,1139.0 L394.1,1138.4 L395.1,1137.8 L396.1,1137.2 L397.1,1136.5 L398.1,1135.9 L399.1,1135.3 L400.1,1134.6 M436.0,1104.7 L437.0,1103.6 L438.0,1102.6 L439.0,1101.5 L440.0,1100.4 L441.0,1099.3 L442.0,1098.2 L443.0,1097.1 L444.0,1096.0 L445.0,1094.9 L446.0,1093.7 L447.0,1092.6 L448.0,1091.4 L449.0,1090.2 L450.0,1089.0 L451.0,1087.8 L452.0,1086.6 L453.0,1085.4 L454.0,1084.1 L455.0,1082.9 L456.0,1081.6 L457.0,1080.3 L458.0,1079.0 L459.0,1077.7 L460.0,1076.4 L461.0,1075.1 L462.0,1073.7 L463.0,1072.4 L464.0,1071.0 M487.9,1034.8 L488.9,1033.1 L489.9,1031.4 L490.9,1029.7 L492.0,1028.0 L493.0,1026.3 L494.0,1024.6 L495.0,1022.8 L496.0,1021.1 L497.0,1019.3 L498.0,1017.5 L499.0,1015.7 L500.1,1013.9 L501.1,1012.1 L502.1,1010.3 L503.1,1008.5 M525.0,967.1 L526.0,965.1 L527.0,963.0 L528.1,961.0 L529.1,959.0 L530.1,957.0 L531.1,954.9 L532.1,952.9 L533.2,950.9 L534.2,948.8 L535.2,946.8 L536.2,944.7 L537.2,942.7 L538.3,940.6 L539.3,938.6 L540.3,936.5 L541.3,934.5 L542.3,932.4 L543.4,930.3 L544.4,928.3 L545.4,926.2 L546.4,924.1 L547.4,922.1 L548.5,920.0 L549.5,918.0 L550.5,915.9 M567.0,882.9 L568.0,881.0 L569.0,879.0 L570.0,877.1 L571.0,875.1 L572.0,873.2 L573.0,871.3 L574.0,869.4 L575.0,867.5 L576.0,865.6 L577.0,863.7 L578.0,861.8 L579.0,859.9 L580.0,858.1 L581.0,856.2 L582.0,854.4 L583.0,852.5 L584.0,850.7 L585.0,848.9 M609.1,809.6 L610.1,808.1 L611.1,806.7 L612.1,805.3 L613.1,803.9 L614.2,802.6 L615.2,801.2 L616.2,799.9 L617.2,798.6 L618.2,797.3 L619.2,796.1 L620.2,794.8 L621.2,793.6 L622.2,792.4 L623.3,791.3 L624.3,790.1 L625.3,789.0 L626.3,787.9 L627.3,786.8 L628.3,785.8 L629.3,784.7 L630.3,783.7 L631.3,782.7 L632.4,781.8 L633.4,780.9 L634.4,779.9 L635.4,779.1 L636.4,778.2 L637.4,777.4 L638.4,776.6 L639.4,775.8 L640.4,775.0 L641.4,774.3 L642.5,773.6 L643.5,772.9 L644.5,772.3 L645.5,771.7 L646.5,771.1 L647.5,770.5 L648.5,769.9 L649.5,769.4 L650.5,768.9 L651.6,768.5 L652.6,768.0 L653.6,767.6 L654.6,767.2 L655.6,766.9 L656.6,766.6 L657.6,766.3 L658.6,766.0 L659.6,765.8 L660.7,765.5 L661.7,765.4 L662.7,765.2 L663.7,765.1 L664.7,765.0 M706.0,784.2 L707.0,785.3 L708.1,786.3 L709.1,787.4 L710.1,788.5 L711.1,789.7 L712.2,790.8 L713.2,792.0 L714.2,793.2 L715.2,794.4 L716.3,795.7 L717.3,796.9 L718.3,798.2 L719.3,799.5 L720.4,800.9 L721.4,802.2 L722.4,803.6 L723.4,805.0 L724.5,806.4 L725.5,807.9 M743.0,835.2 L744.1,837.0 L745.1,838.9 L746.2,840.7 L747.2,842.5 L748.3,844.4 L749.3,846.3 L750.4,848.2 L751.5,850.1 L752.5,852.0 L753.6,853.9 L754.6,855.9 L755.7,857.8 L756.7,859.8 L757.8,861.8 L758.8,863.8 L759.9,865.7 M781.0,907.2 L782.0,909.3 L783.1,911.4 L784.1,913.5 L785.2,915.7 L786.2,917.8 L787.3,919.9 L788.3,922.0 L789.4,924.1 L790.4,926.2 L791.5,928.4 L792.5,930.5 L793.6,932.6 L794.6,934.7 M818.0,981.1 L819.0,983.0 L820.0,985.0 L821.1,986.9 L822.1,988.9 L823.1,990.8 L824.1,992.7 L825.1,994.6 L826.2,996.5 L827.2,998.4 L828.2,1000.3 L829.2,1002.2 L830.3,1004.1 L831.3,1005.9 L832.3,1007.8 L833.3,1009.6 L834.3,1011.5 L835.4,1013.3 L836.4,1015.1 L837.4,1016.9 L838.4,1018.7 L839.5,1020.5 L840.5,1022.2 L841.5,1024.0 L842.5,1025.8 L843.5,1027.5 L844.6,1029.2 L845.6,1030.9 L846.6,1032.7 M873.6,1073.5 L874.6,1074.8 L875.6,1076.2 L876.7,1077.5 L877.7,1078.9 L878.7,1080.2 L879.7,1081.5 L880.7,1082.8 L881.8,1084.1 L882.8,1085.3 L883.8,1086.6 L884.8,1087.8 L885.8,1089.1 L886.8,1090.3 L887.9,1091.5 L888.9,1092.7 L889.9,1093.8 L890.9,1095.0 L891.9,1096.2 L893.0,1097.3 L894.0,1098.4 L895.0,1099.6 M927.8,1129.2 L928.8,1129.9 L929.9,1130.7 L930.9,1131.4 L931.9,1132.1 L933.0,1132.8 L934.0,1133.5 L935.0,1134.2 L936.1,1134.9 L937.1,1135.5 L938.1,1136.2 L939.2,1136.8 L940.2,1137.5 L941.2,1138.1 L942.2,1138.7 L943.3,1139.3 L944.3,1139.9 L945.3,1140.5 L946.4,1141.1 L947.4,1141.6 L948.4,1142.2 L949.5,1142.7 L950.5,1143.3 L951.5,1143.8 L952.6,1144.3 L953.6,1144.9 M974.1,1153.5 L975.1,1153.9 L976.1,1154.2 L977.1,1154.6 L978.2,1154.9 L979.2,1155.2 L980.2,1155.6 L981.2,1155.9 L982.2,1156.2 L983.2,1156.5 L984.3,1156.8 L985.3,1157.1 L986.3,1157.4 L987.3,1157.7 L988.3,1158.0 L989.4,1158.2 L990.4,1158.5 L991.4,1158.8 L992.4,1159.0 L993.4,1159.3 L994.4,1159.5 L995.5,1159.8 L996.5,1160.0 L997.5,1160.3 L998.5,1160.5 L999.5,1160.7 L1000.5,1160.9 L1001.6,1161.2 L1002.6,1161.4 L1003.6,1161.6 L1004.6,1161.8 M1051.1,1167.8 L1052.1,1167.8 L1053.1,1167.9 L1054.1,1168.0 L1055.1,1168.0 L1056.1,1168.1 L1057.1,1168.2 L1058.1,1168.2 L1059.1,1168.3 L1060.1,1168.4 L1061.1,1168.4 L1062.1,1168.5 L1063.1,1168.5 L1064.1,1168.6 L1065.1,1168.6 L1066.1,1168.7 L1067.1,1168.7 L1068.1,1168.8 L1069.1,1168.8 L1070.1,1168.9 L1071.1,1168.9 L1072.1,1169.0 L1073.2,1169.0 L1074.2,1169.1 L1075.2,1169.1 L1076.2,1169.1 L1077.2,1169.2 L1078.2,1169.2 L1079.2,1169.3 L1080.2,1169.3 L1081.2,1169.3 L1082.2,1169.4 L1083.2,1169.4 L1084.2,1169.4 L1085.2,1169.5 L1086.2,1169.5 L1087.2,1169.5 L1088.2,1169.6 L1089.2,1169.6 L1090.2,1169.6 L1091.2,1169.6 L1092.2,1169.7 L1093.2,1169.7 L1094.2,1169.7 M1147.2,1170.4 L1148.2,1170.4 L1149.2,1170.4 L1150.3,1170.4 L1151.3,1170.4 L1152.3,1170.5 L1153.3,1170.5 L1154.4,1170.5 L1155.4,1170.5 L1156.4,1170.5 L1157.4,1170.5 L1158.5,1170.5 L1159.5,1170.5 L1160.5,1170.5 L1161.5,1170.5 L1162.6,1170.5 L1163.6,1170.5 L1164.6,1170.5 L1165.6,1170.5 L1166.7,1170.5 L1167.7,1170.5 L1168.7,1170.5 L1169.7,1170.5 L1170.7,1170.5 L1171.8,1170.5 L1172.8,1170.5 L1173.8,1170.5 L1174.8,1170.5 L1175.9,1170.5 L1176.9,1170.5 L1177.9,1170.5 L1178.9,1170.5 L1180.0,1170.5 L1181.0,1170.5 L1182.0,1170.5 L1183.0,1170.5 L1184.1,1170.5 L1185.1,1170.6 L1186.1,1170.6 M1234.0,1170.6 L1235.0,1170.6 L1236.0,1170.6 L1237.0,1170.6 L1238.0,1170.6 L1239.0,1170.6 L1240.0,1170.6 L1241.0,1170.6 L1242.0,1170.6 L1243.0,1170.6 L1244.0,1170.6 L1245.0,1170.6 L1246.0,1170.6 L1247.0,1170.6 L1248.0,1170.6 L1249.0,1170.6 L1250.0,1170.6 L1251.0,1170.6 L1252.0,1170.6 L1253.0,1170.6 L1254.0,1170.6 L1255.0,1170.6 L1256.0,1170.6 L1257.0,1170.6 L1258.0,1170.6 L1259.0,1170.6 L1260.0,1170.6 L1261.0,1170.6 L1262.0,1170.6 L1263.0,1170.6 L1264.0,1170.6 L1265.0,1170.6 L1266.0,1170.6 L1267.0,1170.6 L1268.0,1170.6 L1269.0,1170.6 L1270.0,1170.6 L1271.0,1170.6 L1272.0,1170.6 L1273.0,1170.6 L1274.0,1170.6 L1275.0,1170.6 L1276.0,1170.6 L1277.0,1170.6 L1278.0,1170.6 L1279.0,1170.6 L1280.0,1170.6" stroke="#00ff00" stroke-width="12"/>
<path d="M347.2,1167.7 L348.2,1167.6 L349.2,1167.6 L350.2,1167.5 L351.3,1167.4 L352.3,1167.3 L353.3,1167.3 L354.3,1167.2 L355.3,1167.1 L356.3,1167.0 L357.4,1166.9 L358.4,1166.8 L359.4,1166.7 L360.4,1166.6 L361.4,1166.5 L362.4,1166.4 L363.5,1166.3 L364.5,1166.2 L365.5,1166.1 L366.5,1166.0 L367.5,1165.9 L368.5,1165.8 L369.5,1165.7 L370.6,1165.6 L371.6,1165.4 L372.6,1165.3 L373.6,1165.2 L374.6,1165.1 L375.6,1164.9 L376.7,1164.8 L377.7,1164.7 L378.7,1164.5 L379.7,1164.4 L380.7,1164.2 L381.7,1164.1 L382.8,1163.9 L383.8,1163.8 L384.8,1163.6 L385.8,1163.5 M429.8,1152.5 L430.8,1152.2 L431.8,1151.8 L432.8,1151.4 L433.8,1151.0 L434.8,1150.7 L435.8,1150.3 L436.8,1149.9 L437.8,1149.4 L438.8,1149.0 L439.8,1148.6 L440.8,1148.2 L441.8,1147.7 L442.8,1147.3 L443.8,1146.8 L444.9,1146.4 L445.9,1145.9 L446.9,1145.4 L447.9,1144.9 L448.9,1144.4 L449.9,1143.9 L450.9,1143.4 L451.9,1142.9 L452.9,1142.4 L453.9,1141.9 L454.9,1141.3 L455.9,1140.8 L456.9,1140.2 L457.9,1139.6 L458.9,1139.1 L459.9,1138.5 L460.9,1137.9 L461.9,1137.3 L462.9,1136.7 L463.9,1136.0 L464.9,1135.4 L465.9,1134.8 L466.9,1134.1 L467.9,1133.4 L468.9,1132.8 L469.9,1132.1 L470.9,1131.4 L471.9,1130.7 L472.9,1130.0 L473.9,1129.3 L475.0,1128.5 L476.0,1127.8 L477.0,1127.0 L478.0,1126.3 L479.0,1125.5 L480.0,1124.7 L481.0,1123.9 L482.0,1123.1 L483.0,1122.2 L484.0,1121.4 L485.0,1120.6 L486.0,1119.7 L487.0,1118.8 L488.0,1118.0 L489.0,1117.1 M522.0,1080.2 L523.0,1078.8 L524.0,1077.5 L525.0,1076.1 L526.0,1074.7 L527.0,1073.2 L528.0,1071.8 L529.0,1070.3 L530.0,1068.9 L531.0,1067.4 L532.0,1065.9 L533.0,1064.3 L534.0,1062.8 L535.0,1061.3 L536.0,1059.7 L537.0,1058.1 L538.0,1056.5 L539.0,1054.9 M556.0,1024.7 L557.0,1022.8 L558.0,1020.9 L559.0,1018.9 L560.0,1016.9 L561.0,1014.9 L562.0,1012.9 L563.0,1010.9 L564.0,1008.8 L565.0,1006.8 L566.0,1004.7 L567.0,1002.6 L568.0,1000.5 L569.0,998.3 M588.0,954.5 L589.0,952.0 L590.0,949.5 L591.0,947.0 L592.0,944.5 L593.0,941.9 L594.0,939.4 L595.0,936.8 L596.0,934.2 L597.0,931.6 L598.0,929.0 L599.0,926.3 L600.0,923.7 M617.0,876.3 L618.0,873.3 L619.0,870.3 L620.1,867.3 L621.1,864.3 L622.1,861.3 L623.1,858.3 L624.2,855.2 L625.2,852.2 L626.2,849.1 L627.2,846.0 L628.2,842.9 L629.3,839.8 L630.3,836.7 L631.3,833.5 L632.3,830.4 L633.4,827.3 L634.4,824.1 L635.4,820.9 L636.4,817.8 L637.5,814.6 L638.5,811.4 L639.5,808.2 M656.3,754.7 L657.4,751.2 L658.5,747.7 L659.5,744.2 L660.6,740.7 L661.7,737.2 L662.8,733.7 L663.9,730.2 L665.0,726.7 L666.0,723.3 L667.1,719.8 L668.2,716.3 M683.0,668.9 L684.0,665.6 L685.1,662.4 L686.1,659.1 L687.1,655.9 L688.2,652.7 L689.2,649.4 L690.2,646.2 L691.3,643.0 L692.3,639.8 L693.3,636.7 L694.4,633.5 L695.4,630.4 M713.0,579.0 L714.0,576.2 L715.0,573.4 L716.0,570.6 L717.1,567.9 L718.1,565.2 L719.1,562.5 L720.1,559.8 L721.1,557.1 L722.1,554.5 L723.2,551.9 L724.2,549.3 L725.2,546.7 L726.2,544.2 L727.2,541.7 L728.2,539.2 L729.3,536.7 L730.3,534.3 L731.3,531.9 L732.3,529.5 M752.5,488.1 L753.5,486.3 L754.6,484.5 L755.6,482.8 L756.6,481.2 L757.6,479.5 L758.7,477.9 L759.7,476.4 L760.7,474.8 L761.8,473.4 L762.8,471.9 L763.8,470.5 L764.8,469.1 L765.9,467.8 L766.9,466.5 L767.9,465.2 L768.9,464.0 L770.0,462.8 L771.0,461.6 M809.8,447.4 L810.8,447.8 L811.8,448.3 L812.9,448.8 L813.9,449.3 L814.9,449.9 L815.9,450.5 L817.0,451.2 L818.0,451.9 L819.0,452.6 L820.0,453.4 L821.1,454.2 L822.1,455.1 L823.1,456.0 L824.1,456.9 L825.2,457.9 L826.2,458.9 L827.2,460.0 L828.2,461.1 L829.3,462.2 L830.3,463.4 L831.3,464.6 L832.4,465.8 L833.4,467.1 L834.4,468.4 M850.9,494.7 L851.9,496.5 L852.9,498.5 L853.9,500.4 L854.9,502.4 L855.9,504.4 L856.9,506.5 L857.9,508.5 L859.0,510.6 L860.0,512.8 L861.0,514.9 L862.0,517.1 L863.0,519.3 L864.0,521.6 L865.0,523.8 L866.0,526.1 M884.0,571.5 L885.0,574.3 L886.1,577.2 L887.1,580.1 L888.2,583.1 L889.2,586.0 L890.3,589.0 L891.4,592.0 L892.4,595.0 L893.5,598.0 L894.5,601.0 L895.6,604.1 L896.6,607.2 M914.0,660.3 L915.0,663.5 L916.1,666.8 L917.1,670.1 L918.1,673.3 L919.2,676.6 L920.2,679.9 L921.3,683.2 L922.3,686.5 L923.3,689.9 L924.4,693.2 L925.4,696.5 M942.4,751.3 L943.5,754.7 L944.5,758.1 L945.6,761.5 L946.6,764.9 L947.7,768.3 L948.7,771.7 L949.8,775.0 L950.8,778.4 L951.9,781.8 L952.9,785.1 L954.0,788.5 M962.7,815.9 L963.7,819.1 L964.8,822.2 L965.8,825.4 L966.8,828.6 L967.8,831.7 L968.9,834.9 L969.9,838.0 L970.9,841.1 L971.9,844.2 L973.0,847.3 L974.0,850.4 L975.0,853.5 M993.3,906.2 L994.3,909.0 L995.3,911.8 L996.4,914.6 L997.4,917.4 L998.4,920.1 L999.4,922.9 L1000.5,925.6 L1001.5,928.3 L1002.5,931.0 L1003.5,933.6 L1004.6,936.3 L1005.6,938.9 L1006.6,941.6 M1025.0,985.7 L1026.0,988.0 L1027.0,990.2 L1028.0,992.5 L1029.0,994.7 L1030.1,996.9 L1031.1,999.0 L1032.1,1001.2 L1033.1,1003.3 L1034.1,1005.4 L1035.1,1007.5 L1036.1,1009.6 L1037.1,1011.7 L1038.1,1013.7 L1039.2,1015.8 L1040.2,1017.8 L1041.2,1019.8 L1042.2,1021.7 L1043.2,1023.7 M1068.8,1067.5 L1069.8,1069.0 L1070.8,1070.4 L1071.8,1071.9 L1072.8,1073.4 L1073.8,1074.8 L1074.8,1076.2 L1075.8,1077.6 L1076.9,1079.0 L1077.9,1080.4 L1078.9,1081.7 L1079.9,1083.1 L1080.9,1084.4 L1081.9,1085.7 L1082.9,1087.0 L1083.9,1088.3 L1084.9,1089.5 L1085.9,1090.8 L1086.9,1092.0 L1087.9,1093.2 L1088.9,1094.4 L1089.9,1095.6 L1090.9,1096.8 L1091.9,1097.9 L1093.0,1099.1 L1094.0,1100.2 L1095.0,1101.3 L1096.0,1102.4 L1097.0,1103.5 L1098.0,1104.6 L1099.0,1105.7 L1100.0,1106.7 L1101.0,1107.7 L1102.0,1108.8 L1103.0,1109.8 L1104.0,1110.8 L1105.0,1111.7 L1106.0,1112.7 L1107.0,1113.7 L1108.1,1114.6 L1109.1,1115.5 L1110.1,1116.5 L1111.1,1117.4 L1112.1,1118.3 L1113.1,1119.1 L1114.1,1120.0 L1115.1,1120.9 M1158.0,1147.8 L1159.0,1148.2 L1160.0,1148.7 L1161.0,1149.1 L1162.0,1149.5 L1163.1,1149.9 L1164.1,1150.3 L1165.1,1150.7 L1166.1,1151.1 L1167.1,1151.5 L1168.1,1151.9 L1169.1,1152.3 L1170.1,1152.6 L1171.2,1153.0 L1172.2,1153.3 L1173.2,1153.7 L1174.2,1154.0 L1175.2,1154.4 L1176.2,1154.7 L1177.2,1155.0 L1178.2,1155.3 L1179.2,1155.6 L1180.3,1155.9 L1181.3,1156.2 L1182.3,1156.5 L1183.3,1156.8 L1184.3,1157.1 L1185.3,1157.4 L1186.3,1157.7 L1187.3,1157.9 L1188.4,1158.2 L1189.4,1158.5 L1190.4,1158.7 L1191.4,1159.0 L1192.4,1159.2 M1234.0,1166.1 L1235.0,1166.2 L1236.0,1166.3 L1237.0,1166.4 L1238.0,1166.5 L1239.0,1166.6 L1240.0,1166.7 L1241.0,1166.8 L1242.0,1166.9 L1243.0,1167.0 L1244.0,1167.0 L1245.0,1167.1 L1246.0,1167.2 L1247.0,1167.3 L1248.0,1167.4 L1249.0,1167.5 L1250.0,1167.5 L1251.0,1167.6 L1252.0,1167.7 L1253.0,1167.7 L1254.0,1167.8 L1255.0,1167.9 L1256.0,1167.9 L1257.0,1168.0 L1258.0,1168.1 L1259.0,1168.1 L1260.0,1168.2 L1261.0,1168.3 L1262.0,1168.3 L1263.0,1168.4 L1264.0,1168.4 L1265.0,1168.5 L1266.0,1168.5 L1267.0,1168.6 L1268.0,1168.6 L1269.0,1168.7 L1270.0,1168.7 L1271.0,1168.8 L1272.0,1168.8 L1273.0,1168.9 L1274.0,1168.9 L1275.0,1169.0 L1276.0,1169.0 L1277.0,1169.0 L1278.0,1169.1 L1279.0,1169.1 L1280.0,1169.2 L1281.0,1169.2 L1282.0,1169.2 L1283.0,1169.3 L1284.0,1169.3 L1285.0,1169.3 L1286.0,1169.4 L1287.0,1169.4 L1288.0,1169.4 L1289.0,1169.5 L1290.0,1169.5 M1340.0,1170.3 L1341.0,1170.3 L1342.0,1170.3 L1343.0,1170.3 L1344.0,1170.4 L1345.0,1170.4 L1346.0,1170.4 L1347.0,1170.4 L1348.0,1170.4 L1349.0,1170.4 L1350.0,1170.4 L1351.0,1170.4 L1352.0,1170.4 L1353.0,1170.4 L1354.0,1170.4 L1355.0,1170.4 L1356.0,1170.4 L1357.0,1170.4 L1358.0,1170.4 L1359.0,1170.4 L1360.0,1170.4 L1361.0,1170.5 L1362.0,1170.5 L1363.0,1170.5 L1364.0,1170.5 L1365.0,1170.5 L1366.0,1170.5 L1367.0,1170.5 L1368.0,1170.5 L1369.0,1170.5 L1370.0,1170.5 L1371.0,1170.5 L1372.0,1170.5 L1373.0,1170.5 L1374.0,1170.5 L1375.0,1170.5 L1376.0,1170.5 L1377.0,1170.5 L1378.0,1170.5 L1379.0,1170.5 L1380.0,1170.5 L1381.0,1170.5 L1382.0,1170.5 L1383.0,1170.5 L1384.0,1170.5 L1385.0,1170.5 L1386.0,1170.5 L1387.0,1170.5 L1388.0,1170.5 L1389.0,1170.5 L1390.0,1170.5 L1391.0,1170.5 L1392.0,1170.5 L1393.0,1170.5 L1394.0,1170.5 L1395.0,1170.5 L1396.0,1170.6 L1397.0,1170.6 L1398.0,1170.6 L1399.0,1170.6 L1400.0,1170.6" stroke="#00ff00" stroke-width="12"/>
<path d="M300.0,1066.0 C301.9,1065.7 308.4,1065.3 311.6,1064.3 C314.8,1063.3 316.8,1061.6 319.4,1060.2 C322.0,1058.8 324.5,1057.9 327.3,1055.7 C330.1,1053.5 332.6,1051.1 336.0,1047.0 C339.4,1042.9 344.0,1036.2 347.5,1031.0 C351.0,1025.8 353.9,1021.1 357.0,1016.0 C360.1,1010.9 362.3,1006.4 366.0,1000.3 C369.7,994.2 375.3,985.6 379.1,979.3 C382.9,972.9 385.5,967.9 388.7,962.2 C391.9,956.5 394.7,950.9 398.1,945.2 C401.6,939.5 406.1,933.8 409.4,928.1 C412.7,922.4 415.4,916.8 418.1,911.1 C420.8,905.4 423.0,899.8 425.4,894.1 C427.8,888.4 430.0,882.5 432.6,877.0 C435.2,871.5 439.0,864.9 441.0,861.0 C443.0,857.1 442.3,857.8 444.5,853.7 C446.7,849.7 450.9,842.4 454.0,836.7 C457.1,831.0 459.6,825.3 462.8,819.6 C466.0,813.9 469.9,808.3 473.4,802.6 C476.9,796.9 480.1,791.3 483.7,785.6 C487.3,779.9 492.1,772.8 495.2,768.5 C498.2,764.2 499.2,764.0 502.0,759.6 C504.8,755.2 508.6,747.9 511.7,742.2 C514.8,736.5 517.6,730.9 520.7,725.2 C523.9,719.5 527.6,713.8 530.6,708.1 C533.6,702.4 536.1,696.8 538.6,691.1 C541.1,685.4 543.7,679.8 545.4,674.1 C547.1,668.4 547.2,662.7 548.8,657.0 C550.3,651.3 552.9,648.3 554.7,640.0 C556.5,631.7 558.1,616.5 559.8,607.3 C561.5,598.0 562.9,592.1 565.0,584.5 C567.1,576.9 569.8,567.5 572.3,561.8 C574.8,556.1 577.9,554.3 580.2,550.5 C582.5,546.7 584.2,544.7 585.9,539.0 C587.6,533.3 589.2,524.0 590.5,516.4 C591.8,508.8 592.5,501.2 593.9,493.6 C595.3,486.0 597.9,477.2 599.1,470.9 C600.3,464.6 600.4,460.8 601.3,455.9 C602.1,451.0 603.0,445.8 604.2,441.7 C605.4,437.6 606.8,434.1 608.4,431.0 C610.0,427.9 612.2,425.6 614.1,423.2 C616.0,420.8 617.9,418.3 619.8,416.8 C621.7,415.3 624.3,415.8 625.5,414.0 C626.7,412.2 626.2,409.9 626.9,406.2 C627.6,402.5 628.9,396.7 629.7,392.0 C630.5,387.3 631.1,382.5 631.9,377.8 C632.7,373.1 633.6,369.9 634.7,363.6 C635.9,357.3 637.4,348.2 638.8,340.0 C640.2,331.8 642.2,321.4 643.2,314.3 C644.2,307.2 643.9,302.9 644.5,297.2 C645.1,291.5 645.8,285.9 646.6,280.2 C647.5,274.5 648.4,268.9 649.6,263.2 C650.8,257.5 652.5,251.8 653.6,246.1 C654.7,240.4 655.1,233.8 656.2,229.1 C657.3,224.4 658.2,220.7 660.0,218.0 C661.8,215.3 665.0,212.4 667.0,212.7 C669.0,213.0 670.8,217.3 672.0,220.0 C673.2,222.7 673.3,224.8 674.3,229.1 C675.3,233.4 676.7,240.4 678.1,246.1 C679.5,251.8 681.3,258.9 682.8,263.2 C684.3,267.5 685.8,268.9 687.1,271.7 C688.4,274.5 689.5,277.6 690.5,280.2 C691.5,282.8 691.4,285.6 693.0,287.0 C694.6,288.4 697.6,287.0 699.9,288.7 C702.1,290.4 704.4,296.6 706.5,297.0 C708.6,297.4 710.2,293.5 712.5,291.0 C714.8,288.5 718.1,285.1 720.3,281.9 C722.4,278.7 724.0,276.6 725.4,271.7 C726.8,266.8 727.5,257.7 728.5,252.4 C729.5,247.1 730.1,243.7 731.1,239.7 C732.1,235.7 733.2,232.1 734.5,228.6 C735.8,225.1 737.4,221.5 738.8,218.4 C740.2,215.3 741.6,211.6 743.0,209.8 C744.4,208.0 745.7,207.2 747.3,207.5 C748.9,207.8 750.7,210.6 752.4,211.5 C754.1,212.4 755.5,212.2 757.5,213.2 C759.5,214.2 762.4,217.5 764.3,217.5 C766.1,217.5 767.2,215.2 768.6,213.2 C770.0,211.2 771.2,207.9 772.8,205.6 C774.4,203.3 776.1,201.3 778.0,199.6 C779.9,197.9 782.1,196.2 783.9,195.3 C785.7,194.5 787.4,193.9 789.0,194.5 C790.6,195.1 791.9,197.0 793.3,198.8 C794.7,200.7 796.2,203.1 797.6,205.6 C799.0,208.1 800.5,211.3 801.8,214.1 C803.1,216.9 804.2,219.8 805.2,222.6 C806.2,225.4 806.9,228.2 807.8,231.1 C808.6,233.9 809.4,236.8 810.3,239.7 C811.1,242.5 812.2,245.4 812.9,248.2 C813.6,251.0 814.0,253.9 814.6,256.7 C815.2,259.5 815.7,262.3 816.3,265.2 C816.9,268.1 817.4,270.9 818.0,273.8 C818.6,276.7 819.2,279.5 819.7,282.3 C820.2,285.1 820.7,287.9 821.0,290.8 C821.3,293.8 820.0,292.3 821.6,300.0 C823.2,307.7 827.6,324.7 830.5,337.0 C833.4,349.3 836.0,361.6 838.8,373.9 C841.6,386.2 845.2,401.7 847.5,410.9 C849.8,420.1 850.1,423.1 852.7,429.3 C855.3,435.5 859.5,441.6 863.2,447.8 C866.9,454.0 871.0,460.1 874.8,466.3 C878.6,472.5 882.7,478.7 885.9,484.8 C889.1,490.9 891.8,497.0 894.2,503.2 C896.6,509.4 898.0,515.5 900.1,521.7 C902.2,527.9 904.9,534.0 906.6,540.2 C908.3,546.4 908.5,552.6 910.3,558.7 C912.1,564.8 914.6,567.8 917.2,577.0 C919.8,586.2 923.1,601.6 926.0,613.9 C928.9,626.2 931.5,638.6 934.3,650.9 C937.1,663.2 940.1,675.5 942.7,687.8 C945.3,700.1 947.6,712.5 950.0,724.8 C952.4,737.1 954.3,749.4 956.9,761.7 C959.5,774.0 962.3,785.7 965.7,798.7 C969.1,811.8 974.0,827.9 977.5,840.0 C981.0,852.1 983.4,860.9 986.9,871.3 C990.4,881.7 994.8,892.1 998.6,902.5 C1002.4,912.9 1005.6,923.4 1009.5,933.8 C1013.4,944.2 1018.2,954.6 1022.0,965.0 C1025.8,975.4 1029.4,987.1 1032.2,996.3 C1035.0,1005.5 1036.5,1012.2 1038.7,1020.0 C1040.9,1027.8 1043.3,1035.4 1045.6,1043.1 C1047.9,1050.8 1049.8,1058.5 1052.5,1066.2 C1055.2,1073.9 1058.6,1082.5 1061.8,1089.3 C1065.0,1096.0 1068.2,1101.5 1071.6,1106.7 C1075.0,1111.9 1078.3,1117.4 1082.0,1120.5 C1085.7,1123.6 1089.7,1124.1 1093.5,1125.1 C1097.3,1126.1 1101.2,1125.8 1105.1,1126.5 C1109.0,1127.2 1112.8,1128.1 1116.7,1129.2 C1120.6,1130.3 1124.4,1131.2 1128.2,1133.2 C1132.0,1135.2 1136.0,1138.6 1139.8,1141.3 C1143.6,1144.0 1147.4,1146.9 1151.3,1149.4 C1155.2,1151.9 1158.1,1154.4 1162.9,1156.3 C1167.7,1158.2 1174.4,1160.0 1180.2,1161.0 C1186.0,1162.0 1189.6,1162.1 1197.5,1162.5 C1205.4,1162.9 1218.0,1162.9 1227.7,1163.5 C1237.4,1164.1 1246.2,1165.6 1255.5,1166.2 C1264.8,1166.8 1274.0,1166.8 1283.2,1167.0 C1292.4,1167.2 1301.7,1167.3 1310.9,1167.6 C1320.2,1167.9 1329.5,1168.7 1338.7,1169.0 C1348.0,1169.3 1357.2,1169.6 1366.4,1169.5 C1375.6,1169.4 1384.9,1168.8 1394.1,1168.4 C1403.3,1168.0 1412.5,1167.5 1421.8,1167.0 C1431.0,1166.5 1440.3,1166.0 1449.6,1165.4 C1458.8,1164.8 1468.1,1163.7 1477.3,1163.4 C1486.5,1163.1 1495.8,1163.0 1505.0,1163.4 C1514.2,1163.8 1523.5,1165.1 1532.8,1165.6 C1542.0,1166.1 1551.3,1166.0 1560.5,1166.2 C1569.7,1166.4 1579.0,1166.8 1588.2,1166.7 C1597.5,1166.6 1606.8,1166.2 1616.0,1165.7 C1625.2,1165.2 1635.4,1164.0 1643.7,1163.4 C1652.0,1162.9 1662.3,1162.6 1666.0,1162.4" stroke="#000" stroke-width="12"/>
</g>
<g font-size="68"><text x="278" y="1189.5" text-anchor="end">0</text>
<text x="278" y="1097.1" text-anchor="end">10</text>
<text x="278" y="1004.7" text-anchor="end">20</text>
<text x="278" y="912.3" text-anchor="end">30</text>
<text x="278" y="819.9" text-anchor="end">40</text>
<text x="278" y="727.5" text-anchor="end">50</text>
<text x="278" y="635.1" text-anchor="end">60</text>
<text x="278" y="542.7" text-anchor="end">70</text>
<text x="278" y="450.3" text-anchor="end">80</text>
<text x="278" y="357.9" text-anchor="end">90</text>
<text x="278" y="265.5" text-anchor="end">100</text>
<text x="278" y="173.1" text-anchor="end">110</text>
<text x="278" y="80.7" text-anchor="end">120</text></g>
<g font-size="66"><text x="337.4" y="1245" text-anchor="middle">2.2</text>
<text x="484.7" y="1245" text-anchor="middle">2.4</text>
<text x="632.0" y="1245" text-anchor="middle">2.6</text>
<text x="779.4" y="1245" text-anchor="middle">2.8</text>
<text x="926.7" y="1245" text-anchor="middle">3.0</text>
<text x="1074.0" y="1245" text-anchor="middle">3.2</text>
<text x="1221.3" y="1245" text-anchor="middle">3.4</text>
<text x="1368.6" y="1245" text-anchor="middle">3.6</text>
<text x="1516.0" y="1245" text-anchor="middle">3.8</text>
<text x="1663.3" y="1245" text-anchor="middle">4.0</text></g>
<text x="808.5" y="1352" font-size="65.5">Energy (eV)</text>
<text transform="translate(81,891.5) rotate(-90)" font-size="66.7">PL Intensity (a.u.)</text>
<text x="1220" y="237.2" font-size="64.5">Z3 Sample</text>
</svg>
</body></html>
